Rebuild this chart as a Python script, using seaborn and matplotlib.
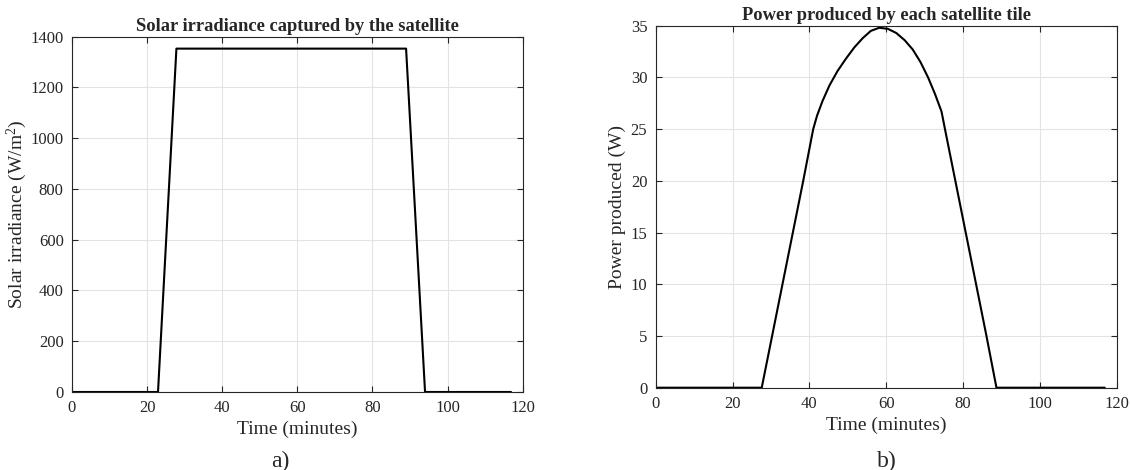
import matplotlib
matplotlib.use("Agg")
import matplotlib.pyplot as plt
import seaborn as sns
import pandas as pd

# ---- data ----
irr_time = [0, 22.9, 27.8, 88.95, 94.0, 116.9]
irr_value = [0, 0, 1353, 1353, 0, 0]

pow_time = [0, 27.6, 30.3, 33.0, 35.7, 38.4, 41.0, 42.0, 43.4, 45.2, 47.3, 49.5, 51.7,
            53.9, 56.0, 58.2, 60.4, 62.6, 64.8, 66.9, 68.9, 70.9, 72.7, 74.4, 75.3,
            78.0, 80.7, 83.4, 86.1, 88.7, 116.9]
pow_value = [0, 0, 5, 10, 15, 20, 25, 26.3, 27.7, 29.2, 30.6, 31.8, 32.9,
             33.8, 34.5, 34.8, 34.7, 34.3, 33.6, 32.7, 31.5, 30.0, 28.4, 26.7, 25,
             20, 15, 10, 5, 0, 0]

x_ticks = [0, 20, 40, 60, 80, 100, 120]
irr_ticks = [0, 200, 400, 600, 800, 1000, 1200, 1400]
pow_ticks = [0, 5, 10, 15, 20, 25, 30, 35]

sns.set_style("ticks")
plt.rcParams["font.family"] = ["Liberation Serif", "DejaVu Serif"]
plt.rcParams["mathtext.fontset"] = "custom"
plt.rcParams["mathtext.rm"] = "Liberation Serif"
plt.rcParams["mathtext.it"] = "Liberation Serif:italic"
plt.rcParams["mathtext.bf"] = "Liberation Serif:bold"

W, H = 1131, 470
fig = plt.figure(figsize=(W / 100, H / 100), dpi=100)

def px_axes(l, r, t, b):
    return fig.add_axes([l / W, 1 - b / H, (r - l) / W, (b - t) / H])

ax1 = px_axes(72, 522.7, 36.7, 392)
ax2 = px_axes(655.7, 1116.7, 25.7, 387.7)

df1 = pd.DataFrame({"t": irr_time, "v": irr_value})
df2 = pd.DataFrame({"t": pow_time, "v": pow_value})

sns.lineplot(data=df1, x="t", y="v", ax=ax1, color="black", linewidth=1.5, sort=False)
sns.lineplot(data=df2, x="t", y="v", ax=ax2, color="black", linewidth=1.5, sort=False)

spine_col = "#262626"
for ax, yt, ylim in [(ax1, irr_ticks, (0, 1400)), (ax2, pow_ticks, (0, 35))]:
    ax.set_xlim(0, 120)
    ax.set_ylim(*ylim)
    ax.set_xticks(x_ticks)
    ax.set_yticks(yt)
    ax.grid(True, color="#e3e3e3", linewidth=0.8)
    ax.set_axisbelow(True)
    ax.tick_params(direction="in", length=4, width=0.8, top=True, right=True,
                   labelsize=12, colors=spine_col, labelcolor="#262626", pad=6)
    for s in ax.spines.values():
        s.set_color(spine_col)
        s.set_linewidth(0.8)
    ax.set_xlabel("Time (minutes)", fontsize=14, color="#262626", labelpad=3)

ax1.set_ylabel(r"Solar irradiance (W/m$\mathregular{^2}$)", fontsize=14, color="#262626", labelpad=1)
ax2.set_ylabel("Power produced (W)", fontsize=14, color="#262626", labelpad=3)
ax1.set_title("Solar irradiance captured by the satellite", fontsize=13.3, fontweight="bold", pad=4)
ax2.set_title("Power produced by each satellite tile", fontsize=13.3, fontweight="bold", pad=4)

fig.text(280 / W, 1 - 461 / H, "a)", fontsize=17, ha="center", va="center")
fig.text(887 / W, 1 - 461 / H, "b)", fontsize=17, ha="center", va="center")

fig.savefig("out.png", dpi=100, facecolor="white")
